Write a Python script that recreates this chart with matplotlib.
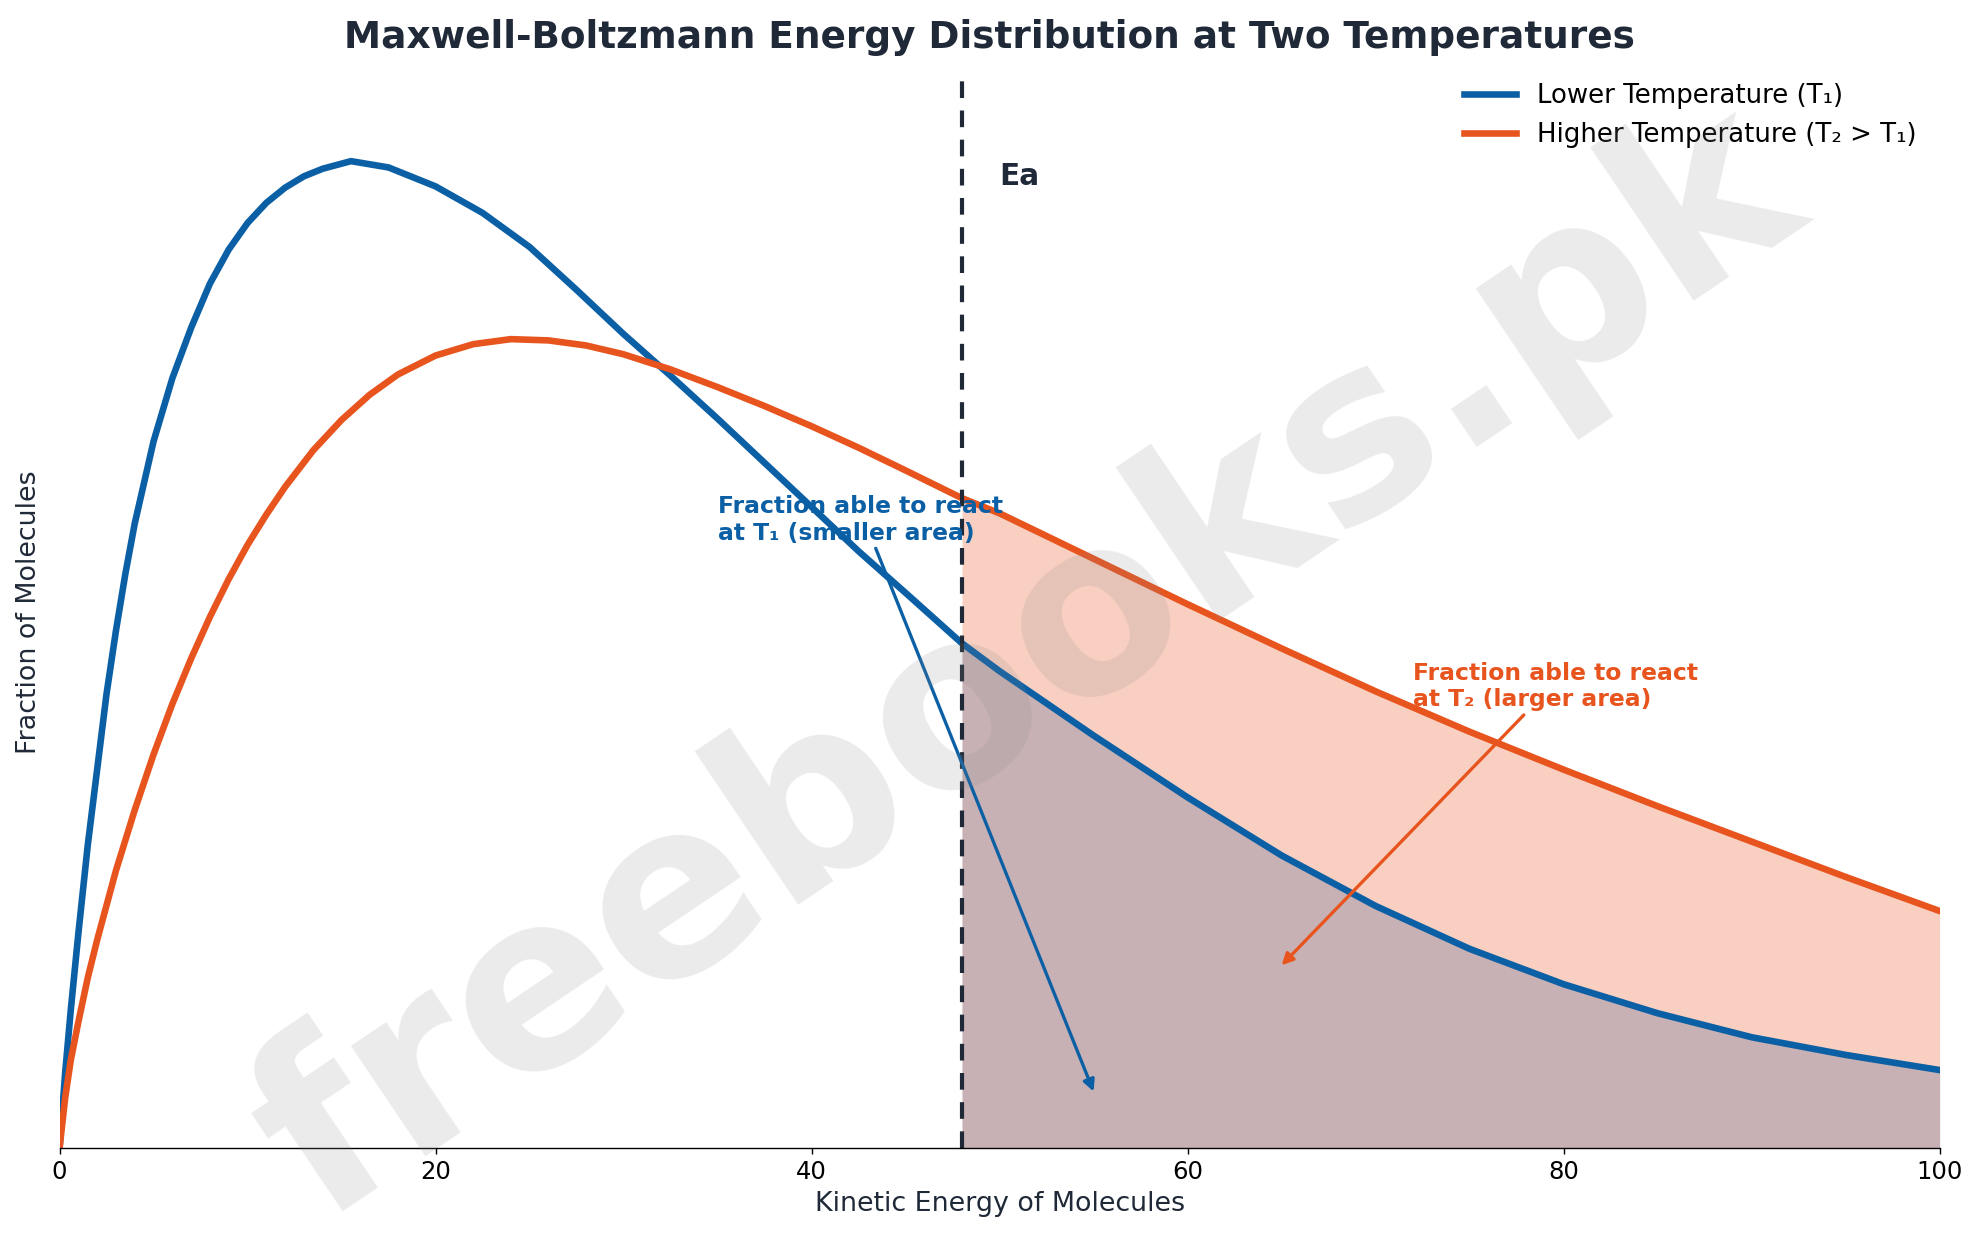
import matplotlib
matplotlib.use("Agg")
import matplotlib.pyplot as plt
import numpy as np

energy_low = [0, 0.3, 0.6, 1, 1.5, 2, 2.5, 3, 3.5, 4, 5, 6, 7, 8, 9, 10, 11, 12, 13, 14, 15.5, 17.5, 20, 22.5, 25, 27.5, 30, 32.5, 35, 37.5, 40, 42.5, 45, 48, 50, 55, 60, 65, 70, 75, 80, 85, 90, 95, 100]
frac_low = [0, 60, 110, 170, 240, 300, 360, 410, 455, 495, 560, 610, 650, 685, 712, 733, 749, 761, 770, 776, 782, 777, 762, 741, 714, 680, 645, 612, 578, 543, 508, 473, 440, 400, 378, 327, 278, 232, 192, 158, 130, 107, 88, 74, 62]
energy_high = [0, 0.3, 0.6, 1, 1.5, 2, 3, 4, 5, 6, 7, 8, 9, 10, 11, 12, 13.5, 15, 16.5, 18, 20, 22, 24, 26, 28, 30, 32.5, 35, 37.5, 40, 42.5, 45, 48, 50, 55, 60, 65, 70, 75, 80, 85, 90, 95, 100]
frac_high = [0, 40, 70, 100, 135, 165, 220, 268, 312, 352, 388, 421, 451, 478, 502, 524, 553, 577, 597, 613, 628, 637, 641, 640, 636, 629, 617, 603, 588, 572, 555, 537, 515, 503, 467, 431, 396, 362, 330, 300, 271, 243, 215, 188]
activation_energy = 48

BLUE = "#0b5fa5"
ORANGE = "#e8541e"
DARK = "#1f2937"

fig = plt.figure(figsize=(15.824, 10.04), dpi=125)
ax = fig.add_axes([0.0301, 0.085, 0.9505, 0.855])

el = np.array(energy_low); fl = np.array(frac_low)
eh = np.array(energy_high); fh = np.array(frac_high)

mh = eh >= activation_energy
ax.fill_between(eh[mh], 0, fh[mh], color=ORANGE, alpha=0.28, linewidth=0)
ml = el >= activation_energy
ax.fill_between(el[ml], 0, fl[ml], color="#5a6e9a", alpha=0.3, linewidth=0)

ax.plot(el, fl, color=BLUE, lw=3.8, label="Lower Temperature (T₁)", solid_joinstyle="round")
ax.plot(eh, fh, color=ORANGE, lw=3.8, label="Higher Temperature (T₂ > T₁)", solid_joinstyle="round")
ax.axvline(activation_energy, color=DARK, lw=2.4, ls=(0, (4, 3)))
ax.text(50, 770, "Ea", fontsize=17, fontweight="bold", color=DARK, va="center")

ax.annotate("Fraction able to react\nat T₁ (smaller area)", xy=(55, 45), xytext=(35, 482),
            fontsize=13.5, fontweight="bold", color=BLUE,
            arrowprops=dict(arrowstyle="-|>", color=BLUE, lw=1.9, shrinkA=0, shrinkB=0, relpos=(0.55, 0)))
ax.annotate("Fraction able to react\nat T₂ (larger area)", xy=(65, 145), xytext=(72, 350),
            fontsize=13.5, fontweight="bold", color=ORANGE,
            arrowprops=dict(arrowstyle="-|>", color=ORANGE, lw=1.9, shrinkA=0, shrinkB=0, relpos=(0.4, 0)))

fig.text(0.52, 0.47, "freebooks.pk", fontsize=140, fontweight="bold", color="#888888", alpha=0.17,
         rotation=34, ha="center", va="center")

ax.set_xlim(0, 100)
ax.set_ylim(0, 850)
ax.set_yticks([])
for s in ["left", "top", "right"]:
    ax.spines[s].set_visible(False)
ax.tick_params(axis="x", labelsize=14)
ax.set_xlabel("Kinetic Energy of Molecules", fontsize=15.5, color=DARK)
ax.set_ylabel("Fraction of Molecules", fontsize=15.5, color=DARK, labelpad=10)
fig.suptitle("Maxwell-Boltzmann Energy Distribution at Two Temperatures", fontsize=21.5,
             fontweight="bold", color=DARK, y=0.985)
ax.legend(loc="upper right", frameon=False, fontsize=15, bbox_to_anchor=(1.0, 1.015))
fig.savefig("out.png", dpi=125)
